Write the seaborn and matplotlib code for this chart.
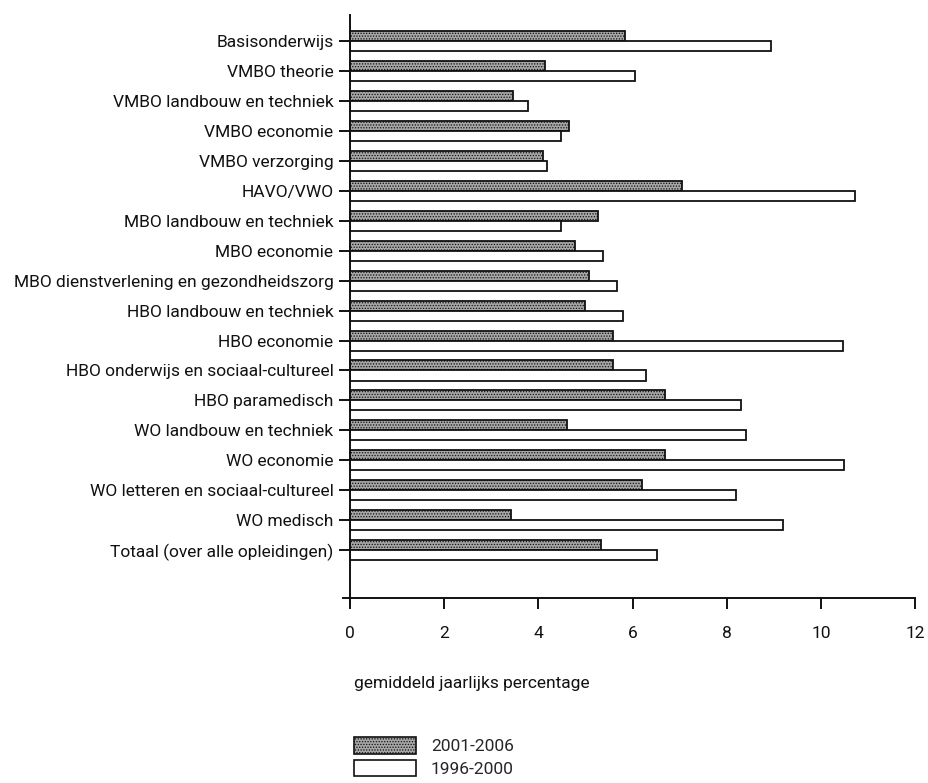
import matplotlib
matplotlib.use("Agg")
import matplotlib.pyplot as plt
import seaborn as sns
import pandas as pd
from matplotlib.patches import Patch

categories = [
    "Basisonderwijs", "VMBO theorie", "VMBO landbouw en techniek", "VMBO economie",
    "VMBO verzorging", "HAVO/VWO", "MBO landbouw en techniek", "MBO economie",
    "MBO dienstverlening en gezondheidszorg", "HBO landbouw en techniek", "HBO economie",
    "HBO onderwijs en sociaal-cultureel", "HBO paramedisch", "WO landbouw en techniek",
    "WO economie", "WO letteren en sociaal-cultureel", "WO medisch",
    "Totaal (over alle opleidingen)",
]
series_names = ["2001-2006", "1996-2000"]
values_2001_2006 = [5.85, 4.15, 3.47, 4.66, 4.09, 7.06, 5.27, 4.77, 5.08, 4.99, 5.59,
                    5.58, 6.69, 4.60, 6.70, 6.20, 3.41, 5.33]
values_1996_2000 = [8.95, 6.06, 3.78, 4.47, 4.18, 10.72, 4.48, 5.38, 5.68, 5.79, 10.47,
                    6.29, 8.30, 8.40, 10.49, 8.20, 9.20, 6.52]
xticks = [0, 2, 4, 6, 8, 10, 12]
xlabel = "gemiddeld jaarlijks percentage"

df = pd.DataFrame({
    "categorie": categories * 2,
    "periode": [series_names[0]] * len(categories) + [series_names[1]] * len(categories),
    "waarde": values_2001_2006 + values_1996_2000,
})

sns.set_style("white")
plt.rcParams["font.family"] = ["Roboto", "DejaVu Sans"]
plt.rcParams["hatch.linewidth"] = 0.6
FS = 12.5

fig = plt.figure(figsize=(9.29, 7.83), dpi=100)
ax = fig.add_axes([343 / 929, 1 - 605 / 783, (915 - 343) / 929, (605 - 15) / 783])

gray = "#a6a6a6"
palette = {series_names[0]: gray, series_names[1]: "white"}
sns.barplot(data=df, y="categorie", x="waarde", hue="periode", order=categories,
            hue_order=series_names, palette=palette, orient="h", width=0.67,
            edgecolor="#111111", linewidth=1.3, legend=False, ax=ax, saturation=1)

for bar in ax.containers[0]:
    bar.set_hatch("......")

ax.set_xlim(-0.15, 12)
ax.set_ylim(18.83, -0.87)
ax.spines["left"].set_position(("data", 0))
ax.spines["bottom"].set_position(("data", 18.6))
ax.spines["right"].set_visible(False)
ax.spines["top"].set_visible(False)
for s in ("left", "bottom"):
    ax.spines[s].set_linewidth(1.4)
    ax.spines[s].set_color("#111111")

ax.set_xticks(xticks)
ax.set_xticklabels([str(t) for t in xticks])
ax.tick_params(axis="x", direction="out", length=8, width=1.4, pad=12,
               labelsize=FS, bottom=True, colors="#111111")
ax.tick_params(axis="y", direction="out", length=8, width=1.4, pad=4,
               labelsize=FS, left=True, colors="#111111")
ax.set_ylabel("")
ax.set_xlabel(xlabel, fontsize=FS, loc="left", labelpad=25, color="#111111")
ax.xaxis.label.set_x(0.02)

handles = [Patch(facecolor=gray, edgecolor="#111111", hatch="......", linewidth=1.2),
           Patch(facecolor="white", edgecolor="#111111", linewidth=1.2)]
fig.legend(handles, series_names, loc="lower left", bbox_to_anchor=(352 / 929, 0.006),
           frameon=False, fontsize=FS, handlelength=3.6, handleheight=1.05,
           labelspacing=0.3, handletextpad=0.85, borderpad=0.1, borderaxespad=0.0)

fig.savefig("out.png", dpi=100)
